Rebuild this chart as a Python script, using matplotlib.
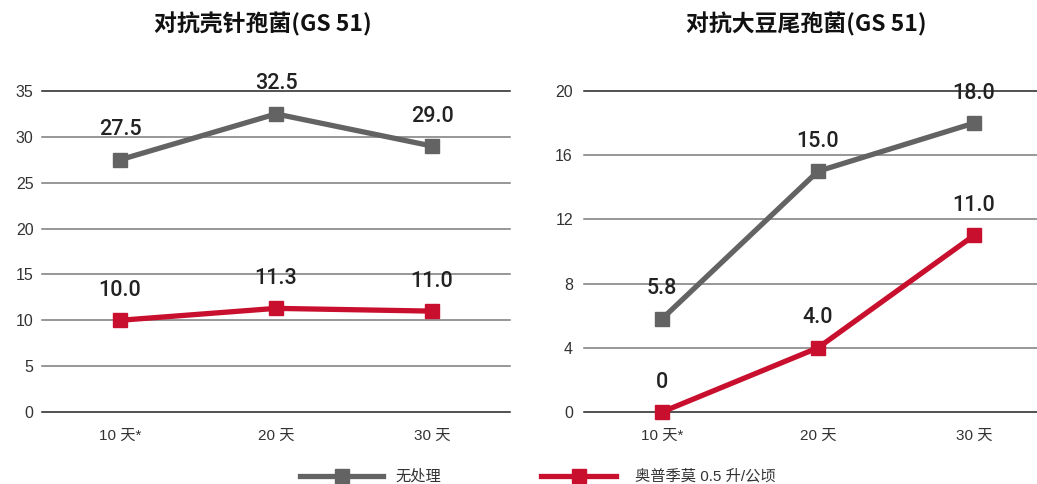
import matplotlib
matplotlib.use("Agg")
import matplotlib.pyplot as plt
from matplotlib.lines import Line2D

plt.rcParams['font.family'] = ['Liberation Sans', 'Noto Sans CJK SC', 'DejaVu Sans']

days = ['10 天*', '20 天', '30 天']
series_names = ['无处理', '奥普季莫 0.5 升/公顷']
colors = ['#636363', '#c8102e']

left_title = '对抗壳针孢菌(GS 51)'
left_untreated = [27.5, 32.5, 29.0]
left_treated = [10.0, 11.3, 11.0]
left_ticks = [0, 5, 10, 15, 20, 25, 30, 35]

right_title = '对抗大豆尾孢菌(GS 51)'
right_untreated = [5.8, 15.0, 18.0]
right_treated = [0.0, 4.0, 11.0]
right_ticks = [0, 4, 8, 12, 16, 20]

W, H = 1037, 484
fig = plt.figure(figsize=(W / 100, H / 100), dpi=100)


def panel(rect, title, title_x, untreated, treated, ticks, offset_px, ypad):
    ax = fig.add_axes(rect)
    x = list(range(len(days)))
    ymax = ticks[-1]
    ax.set_xlim(-0.5, 2.5)
    ax.set_ylim(0, ymax)
    for t in ticks:
        c = '#222222' if t in (0, ymax) else '#7a7a7a'
        ax.axhline(t, color=c, lw=1.1, zorder=1, clip_on=False)
    for vals, col in zip([untreated, treated], colors):
        ax.plot(x, vals, color=col, lw=3.8, marker='s', ms=9.5, zorder=3, clip_on=False)
        for xi, v in zip(x, vals):
            lab = '0' if v == 0 else f'{v:.1f}'
            ax.annotate(lab, (xi, v), xytext=(0, offset_px), textcoords='offset pixels',
                        ha='center', va='center', fontsize=15.5, fontweight='medium',
                        color='#222222', family=['Roboto', 'Liberation Sans'])
    ax.set_yticks(ticks)
    ax.set_yticklabels([str(t) for t in ticks], fontsize=11.5, color='#333333')
    ax.set_xticks(x)
    ax.set_xticklabels(days, fontsize=11, color='#333333')
    ax.tick_params(length=0, axis='y', pad=ypad)
    ax.tick_params(length=0, axis='x', pad=12)
    for s in ax.spines.values():
        s.set_visible(False)
    ax.patch.set_alpha(0)
    fig.text(title_x / W, 1 - 24 / H, title, ha='center', va='center', fontsize=16.5,
             fontweight='bold', family=['Noto Sans CJK SC'], color='#111111')
    return ax


top, bottom = 91, 412
panel([42 / W, 1 - bottom / H, 468 / W, (bottom - top) / H], left_title, 263,
      left_untreated, left_treated, left_ticks, 30, 6)
panel([584 / W, 1 - bottom / H, 468 / W, (bottom - top) / H], right_title, 806,
      right_untreated, right_treated, right_ticks, 30, 8)

# legend at the bottom
leg_y = 1 - 476 / H
for (x0, x1, xt), name, col in zip([(300, 383, 395), (541, 616, 635)], series_names, colors):
    fig.add_artist(Line2D([x0 / W, x1 / W], [leg_y, leg_y], color=col, lw=3.8,
                          transform=fig.transFigure))
    fig.add_artist(Line2D([(x0 + x1) / 2 / W], [leg_y], color=col, marker='s', ms=9.5,
                          transform=fig.transFigure))
    fig.text(xt / W, leg_y, name, ha='left', va='center', fontsize=11, color='#333333')

fig.savefig('out.png', dpi=100)
